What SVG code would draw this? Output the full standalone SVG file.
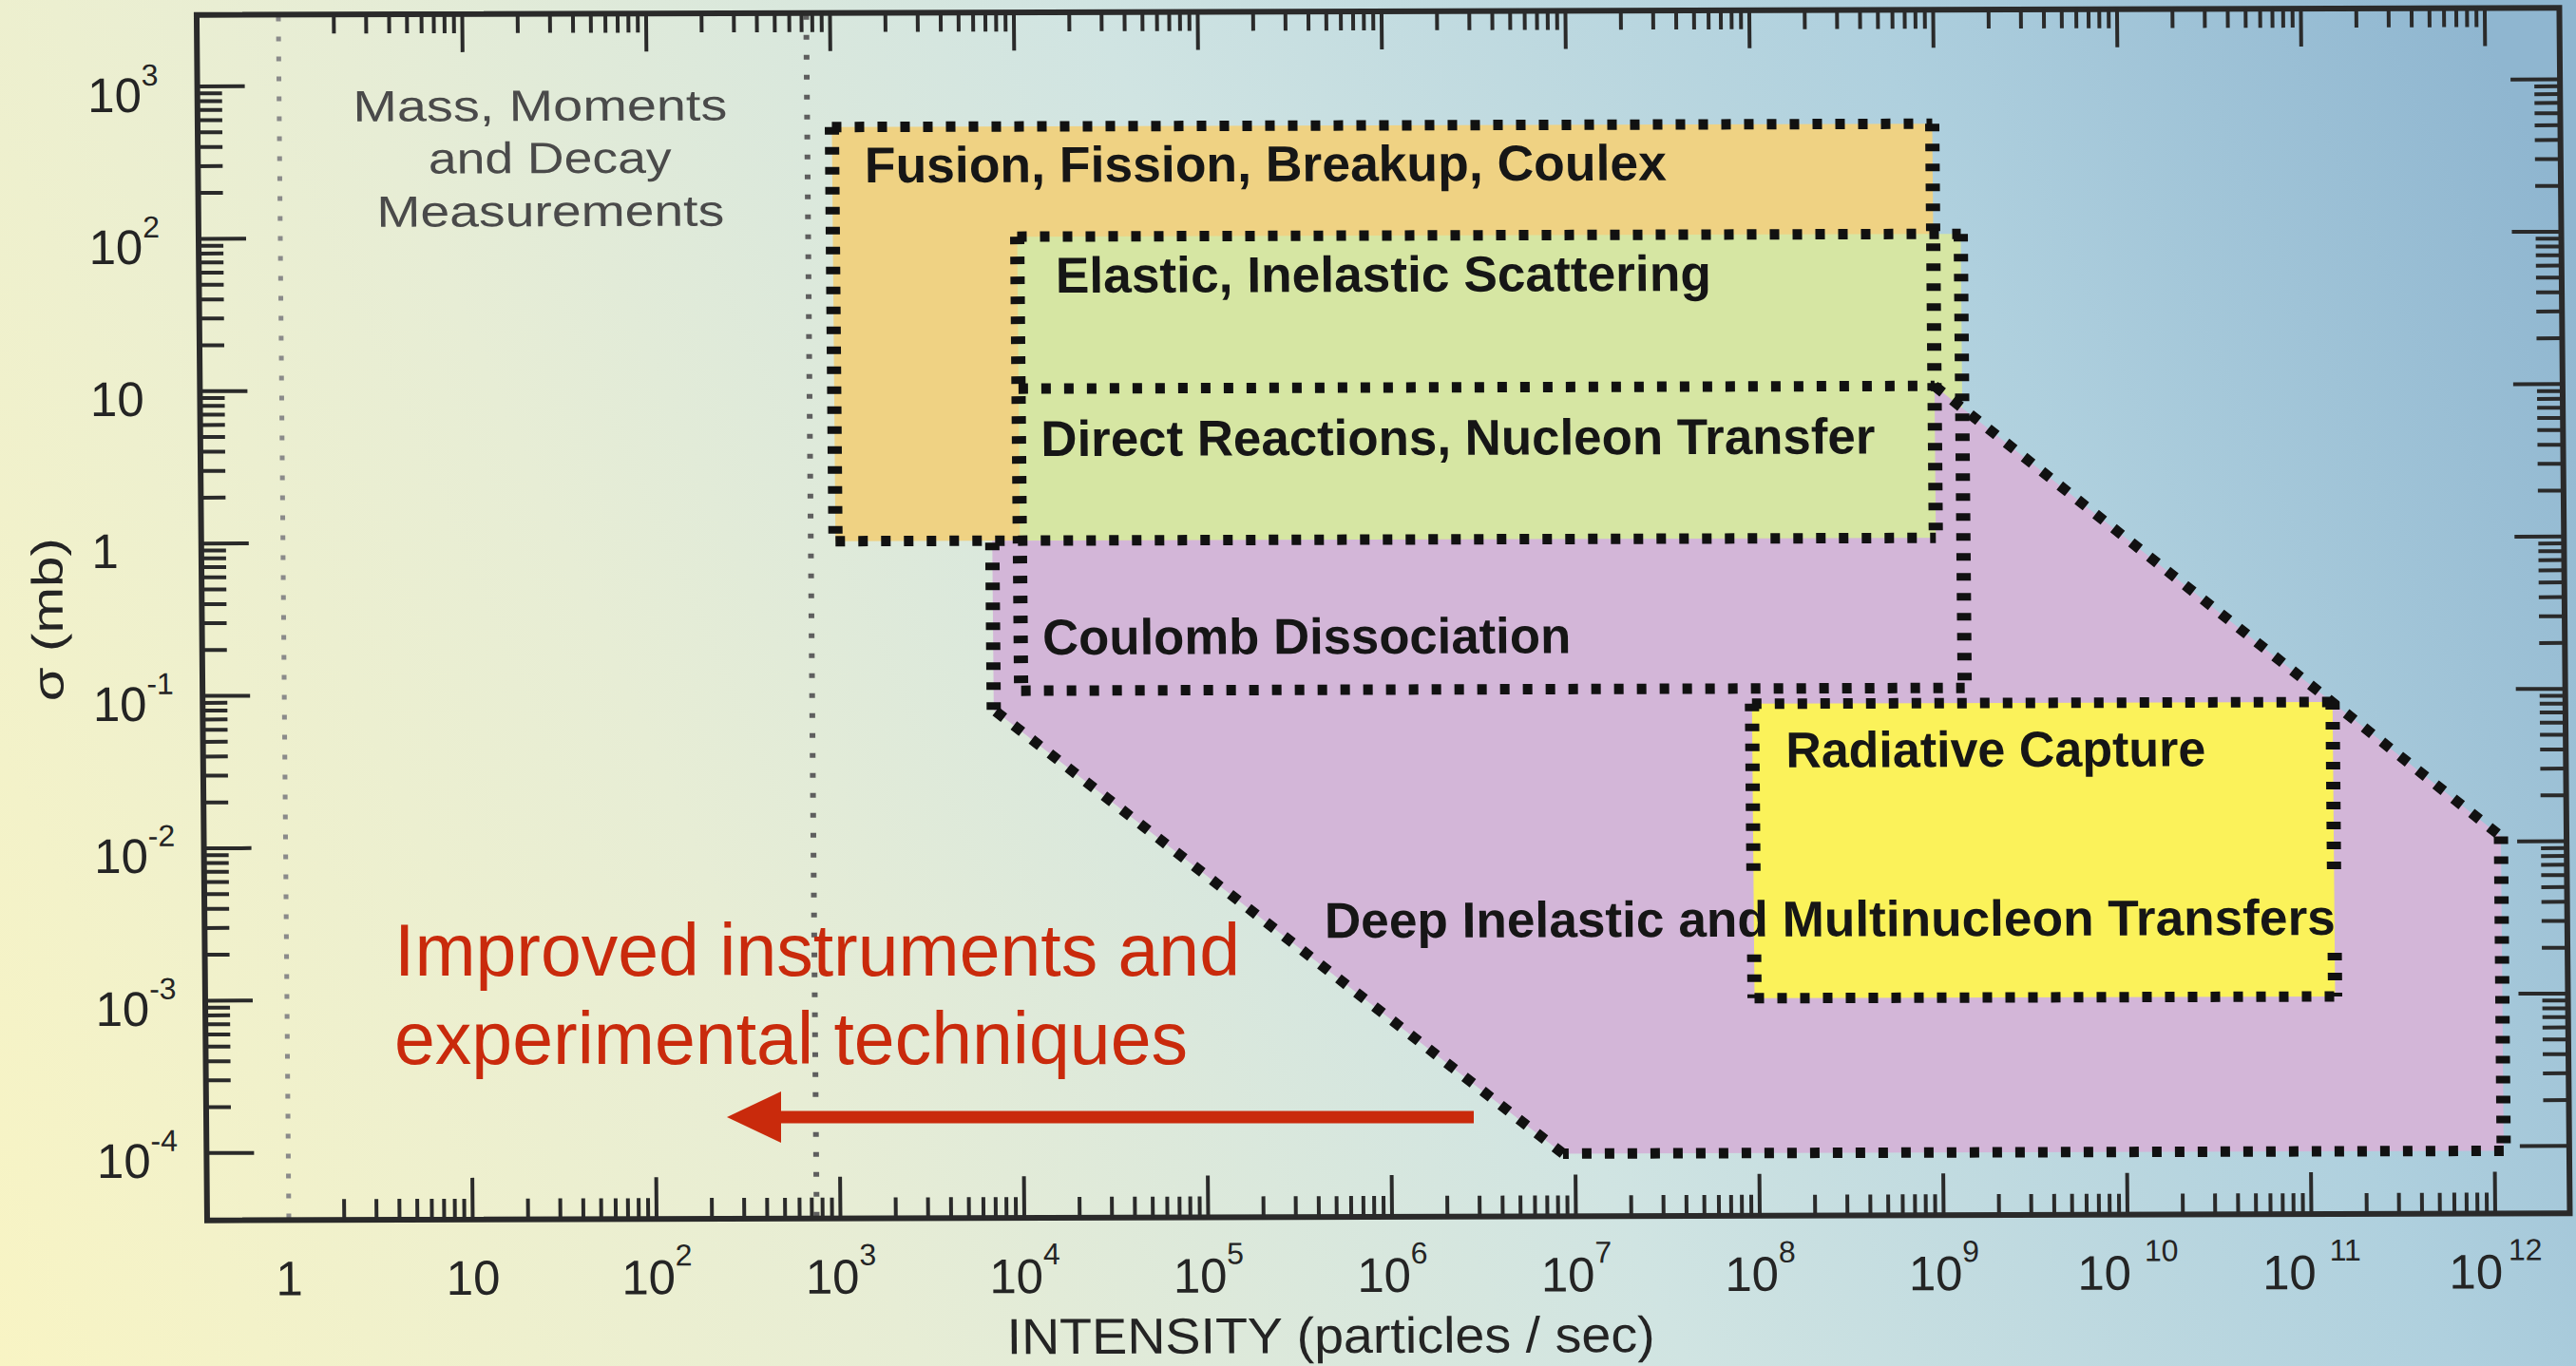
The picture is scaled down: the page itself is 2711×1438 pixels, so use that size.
<svg xmlns="http://www.w3.org/2000/svg" width="2711" height="1438" viewBox="0 0 2711 1438">
<defs>
<linearGradient id="bg" gradientUnits="userSpaceOnUse" x1="0" y1="1438" x2="2711" y2="250">
<stop offset="0" stop-color="#f8f4c4"/>
<stop offset="0.3" stop-color="#e7edd5"/>
<stop offset="0.55" stop-color="#d0e4e2"/>
<stop offset="0.8" stop-color="#afd0de"/>
<stop offset="1" stop-color="#8fb6d0"/>
</linearGradient>
<path id="xdecB" class="tick" d="M58.3 0v-22M92.3 0v-22M116.5 0v-22M135.3 0v-22M150.6 0v-22M163.5 0v-22M174.8 0v-22M184.7 0v-22M193.5 0v-44"/>
<path id="xdecT" class="tick" d="M58.3 0v20M92.3 0v20M116.5 0v20M135.3 0v20M150.6 0v20M163.5 0v20M174.8 0v20M184.7 0v20M193.5 0v40"/>
<path id="ydecL" class="tick" d="M0 -48.3h26M0 -76.5h26M0 -96.6h26M0 -112.1h26M0 -124.8h26M0 -135.6h26M0 -144.9h26M0 -153.1h26M0 -160.4h50"/>
<path id="ydecR" class="tick" d="M0 -48.3h-27M0 -76.5h-27M0 -96.6h-27M0 -112.1h-27M0 -124.8h-27M0 -135.6h-27M0 -144.9h-27M0 -153.1h-27M0 -160.4h-52"/>
</defs>
<style>
.dh{fill:none;stroke:#111;stroke-width:11;stroke-dasharray:10 14}
.dv{fill:none;stroke:#111;stroke-width:15;stroke-dasharray:8 13}
.dd{fill:none;stroke:#111;stroke-width:11;stroke-dasharray:11 13}
.gdot{fill:none;stroke:#5e5e5e;stroke-width:6;stroke-dasharray:5 16}
.gdot2{fill:none;stroke:#8a8a8a;stroke-width:5;stroke-dasharray:5 16}
.tick{fill:none;stroke:#2a2a2a;stroke-width:4}
.frame{fill:none;stroke:#2a2a2a;stroke-width:6}
.tl{font-family:"Liberation Sans",Arial,sans-serif;font-size:51px;fill:#242424}
.sup{font-size:32px}
.lab{font-family:"Liberation Sans",Arial,sans-serif;font-weight:bold;font-size:53px;fill:#161616}
.mass{font-family:"Liberation Sans",Arial,sans-serif;font-size:46px;fill:#4a4a4a}
.red{font-family:"Liberation Sans",Arial,sans-serif;font-size:77px;fill:#c92a0c}
</style>
<rect id="background" x="0" y="0" width="2711" height="1438" fill="url(#bg)"/>
<g id="chart" transform="matrix(1 -0.003 0.0087 1 -5.655 4.35)">
<g id="fills">
<rect id="fill-fusion" x="880" y="132" width="1158" height="436" fill="#efd283"/>
<rect id="fill-elastic" x="1074" y="248" width="993" height="320" fill="#d6e6a3"/>
<polygon id="fill-deep" points="1045,568 2038,568 2038,408 2630,884 2630,1215 1640,1215 1045,746" fill="#d3b6d8"/>
<rect id="fill-capture" x="1843" y="742" width="611" height="310" fill="#fbf25a"/>
</g>
<g id="limits">
<path class="gdot2" d="M298.5 14V1281"/>
<path class="gdot" d="M854 14V1281"/>
</g>
<g id="node-fusion">
<path class="dh" d="M880 132H2038M880 568H2038"/>
<path class="dv" d="M880 132V568M2038 132V568"/>
<text class="lab" x="914" y="190.5" textLength="844" lengthAdjust="spacingAndGlyphs">Fusion, Fission, Breakup, Coulex</text>
</g>
<g id="node-elastic">
<path class="dh" d="M1074 248H2067"/>
<path class="dv" d="M1074 248V726M2067 248V726"/>
<text class="lab" x="1114" y="307" textLength="690" lengthAdjust="spacingAndGlyphs">Elastic, Inelastic Scattering</text>
</g>
<g id="node-direct">
<path class="dh" d="M1074 408H2038"/>
<text class="lab" x="1097" y="479" textLength="878" lengthAdjust="spacingAndGlyphs">Direct Reactions, Nucleon Transfer</text>
</g>
<g id="node-coulomb">
<path class="dh" d="M1074 726H2067"/>
<text class="lab" x="1097" y="688" textLength="556" lengthAdjust="spacingAndGlyphs">Coulomb Dissociation</text>
</g>
<g id="node-deep">
<path class="dd" d="M2038 408L2630 884M1640 1215L1045 746"/>
<path class="dv" d="M2630 884V1215M1045 746V568"/>
<path class="dh" d="M2630 1215H1640"/>
</g>
<g id="node-capture">
<path class="dh" d="M1843 742H2454M1843 1052H2454"/>
<path class="dv" d="M1843 742V925M1843 1006V1052M2454 742V922M2454 1006V1052"/>
<text class="lab" x="1878" y="809" textLength="442" lengthAdjust="spacingAndGlyphs">Radiative Capture</text>
</g>
<text id="label-deep" class="lab" x="1391" y="987" textLength="1064" lengthAdjust="spacingAndGlyphs">Deep Inelastic and Multinucleon Transfers</text>
<g id="node-mass">
<text class="mass" x="376" y="124.5" textLength="394" lengthAdjust="spacingAndGlyphs">Mass, Moments</text>
<text class="mass" x="455" y="179.5" textLength="256" lengthAdjust="spacingAndGlyphs">and Decay</text>
<text class="mass" x="400" y="235.5" textLength="366" lengthAdjust="spacingAndGlyphs">Measurements</text>
</g>
<g id="axes">
<rect class="frame" x="212.5" y="12" width="2486.5" height="1269"/>
<use href="#xdecB" x="298.5" y="1281"/><use href="#xdecB" x="492" y="1281"/><use href="#xdecB" x="685.5" y="1281"/><use href="#xdecB" x="879" y="1281"/><use href="#xdecB" x="1072.5" y="1281"/><use href="#xdecB" x="1266" y="1281"/><use href="#xdecB" x="1459.5" y="1281"/><use href="#xdecB" x="1653" y="1281"/><use href="#xdecB" x="1846.5" y="1281"/><use href="#xdecB" x="2040" y="1281"/><use href="#xdecB" x="2233.5" y="1281"/><use href="#xdecB" x="2427" y="1281"/>
<use href="#xdecT" x="298.5" y="12"/><use href="#xdecT" x="492" y="12"/><use href="#xdecT" x="685.5" y="12"/><use href="#xdecT" x="879" y="12"/><use href="#xdecT" x="1072.5" y="12"/><use href="#xdecT" x="1266" y="12"/><use href="#xdecT" x="1459.5" y="12"/><use href="#xdecT" x="1653" y="12"/><use href="#xdecT" x="1846.5" y="12"/><use href="#xdecT" x="2040" y="12"/><use href="#xdecT" x="2233.5" y="12"/><use href="#xdecT" x="2427" y="12"/>
<use href="#ydecL" x="212.5" y="1210.1"/><use href="#ydecL" x="212.5" y="1049.7"/><use href="#ydecL" x="212.5" y="889.3"/><use href="#ydecL" x="212.5" y="728.9"/><use href="#ydecL" x="212.5" y="568.5"/><use href="#ydecL" x="212.5" y="408.1"/><use href="#ydecL" x="212.5" y="247.7"/>
<use href="#ydecR" x="2699" y="1210.1"/><use href="#ydecR" x="2699" y="1049.7"/><use href="#ydecR" x="2699" y="889.3"/><use href="#ydecR" x="2699" y="728.9"/><use href="#ydecR" x="2699" y="568.5"/><use href="#ydecR" x="2699" y="408.1"/><use href="#ydecR" x="2699" y="247.7"/>
<path class="tick" d="M212.5 1210.1h50M2699 1210.1h-52"/>
</g>
<g id="y-labels" class="tl">
<text x="97" y="114">10<tspan class="sup" dy="-28">3</tspan></text>
<text x="97" y="274">10<tspan class="sup" dy="-28">2</tspan></text>
<text x="97" y="434">10</text>
<text x="97" y="594">1</text>
<text x="97" y="755">10<tspan class="sup" dy="-28">-1</tspan></text>
<text x="97" y="915">10<tspan class="sup" dy="-28">-2</tspan></text>
<text x="97" y="1076">10<tspan class="sup" dy="-28">-3</tspan></text>
<text x="97" y="1236">10<tspan class="sup" dy="-28">-4</tspan></text>
<text x="66" y="648" transform="rotate(-90 66 648)" text-anchor="middle" textLength="172" lengthAdjust="spacingAndGlyphs" font-size="46">σ  (mb)</text>
</g>
<g id="x-labels" class="tl" text-anchor="middle">
<text x="298.5" y="1360">1</text>
<text x="492" y="1360">10</text>
<text x="685.5" y="1360">10<tspan class="sup" dy="-30">2</tspan></text>
<text x="879" y="1360">10<tspan class="sup" dy="-30">3</tspan></text>
<text x="1072.5" y="1360">10<tspan class="sup" dy="-30">4</tspan></text>
<text x="1266" y="1360">10<tspan class="sup" dy="-30">5</tspan></text>
<text x="1459.5" y="1360">10<tspan class="sup" dy="-30">6</tspan></text>
<text x="1653" y="1360">10<tspan class="sup" dy="-30">7</tspan></text>
<text x="1846.5" y="1360">10<tspan class="sup" dy="-30">8</tspan></text>
<text x="2040" y="1360">10<tspan class="sup" dy="-30">9</tspan></text>
<text x="2233.5" y="1360">10<tspan class="sup" dx="14" dy="-30">10</tspan></text>
<text x="2427" y="1360">10<tspan class="sup" dx="14" dy="-30">11</tspan></text>
<text x="2620.5" y="1360">10<tspan class="sup" dx="6" dy="-30">12</tspan></text>
<text x="1053" y="1424" text-anchor="start" font-size="53" textLength="682" lengthAdjust="spacingAndGlyphs">INTENSITY  (particles / sec)</text>
</g>
</g>
<g id="annotation">
<text class="red" x="415" y="1027" textLength="890" lengthAdjust="spacingAndGlyphs">Improved instruments and</text>
<text class="red" x="415" y="1120" textLength="835" lengthAdjust="spacingAndGlyphs">experimental techniques</text>
</g>
<g id="connectors">
<path d="M1551 1176H815" fill="none" stroke="#c92a0c" stroke-width="13"/>
<polygon points="765,1176 822,1149 822,1203" fill="#c92a0c"/>
</g>
</svg>
